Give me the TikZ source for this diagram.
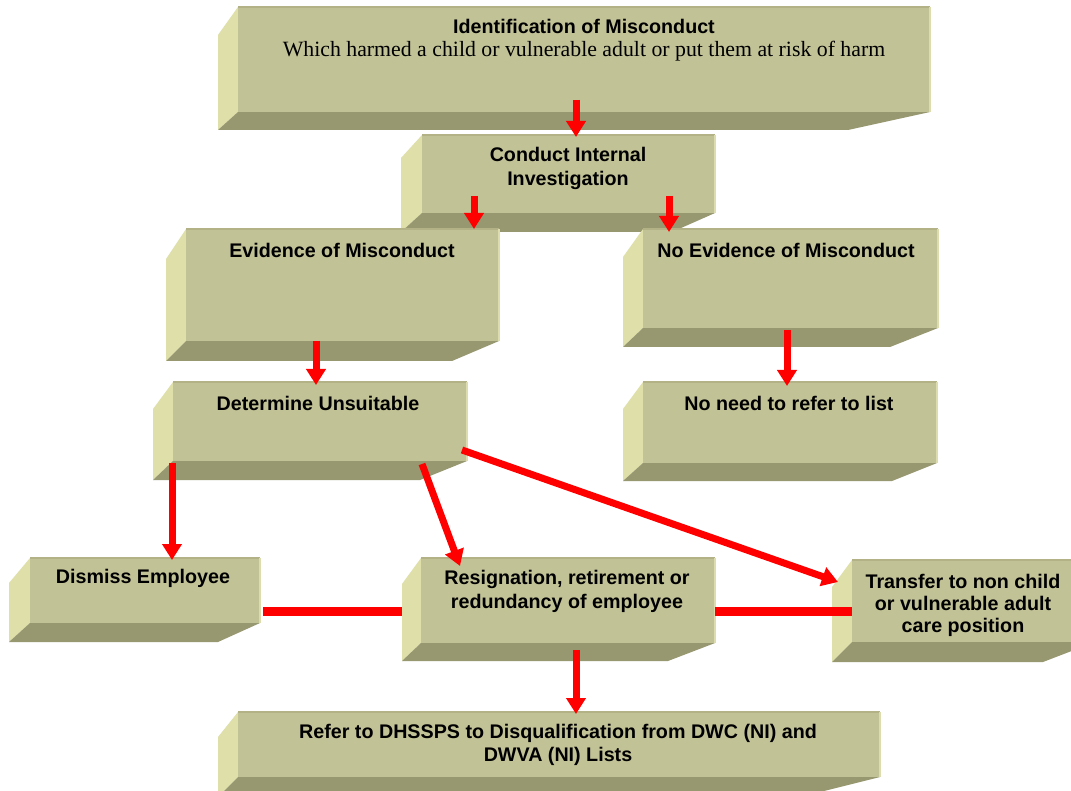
\documentclass[tikz,border=0pt]{standalone}
\usepackage{fontspec}
\setmainfont{Liberation Sans}
\newfontfamily\tnrfont{Liberation Serif}
\usetikzlibrary{arrows.meta,fit}
\definecolor{frontc}{HTML}{C2C297}
\definecolor{sidec}{HTML}{DFDFA9}
\definecolor{botc}{HTML}{979770}
\definecolor{topedgec}{HTML}{B2B286}
\definecolor{rightedgec}{HTML}{DCDCAE}
\definecolor{arrred}{HTML}{FF0000}
\tikzset{
  front/.style={fill=frontc, inner sep=0pt, outer sep=0pt, draw=none},
  sidef/.style={fill=sidec},
  botf/.style={fill=botc},
  topedge/.style={draw=topedgec, line width=1.5pt},
  rightedge/.style={draw=rightedgec, line width=1.5pt},
  lbl/.style={font=\fontsize{19.7}{23.5}\selectfont\bfseries, align=center, inner sep=0pt, text=black},
  serifl/.style={font=\tnrfont\fontsize{21.8}{26}\selectfont, inner sep=0pt, text=black},
  arr/.style={draw=arrred, line width=7pt, -{Triangle[width=19pt,length=16pt]}},
  link/.style={draw=arrred, line width=9pt},
}
% name, xL, yT, xR, yB, a (side depth x), b (side top drop), c (bottom depth), e (bottom right inset)
\newcommand\tdbox[9]{%
  \fill[sidef] (#2,#3) -- (#2-#6,#3+#7) -- (#2-#6,#5+#8) -- (#2,#5) -- cycle;
  \fill[botf] (#2,#5) -- (#4,#5) -- (#4-#9,#5+#8) -- (#2-#6,#5+#8) -- cycle;
  \node[front, fit={(#2,#3) (#4,#5)}] (#1) {};
  \draw[topedge] (#2,#3) -- (#4,#3);
  \draw[rightedge] (#4,#3) -- (#4,#5);
}
\begin{document}
\begin{tikzpicture}[x=1pt,y=-1pt]
\clip (0,0) rectangle (1071,791);
\fill[white] (0,0) rectangle (1071,791);

\tdbox{top}{238}{7}{930}{112}{20}{28}{18}{82}
\tdbox{ci}{422}{135}{715}{213}{21}{23}{19}{43}
\tdbox{ev}{186}{229}{499}{341}{20}{30}{20}{47}
\tdbox{nev}{643}{229}{938}{328}{20}{28}{19}{48}
\tdbox{det}{173}{382}{467}{461}{20}{27}{19}{47}
\tdbox{nn}{643}{382}{937}{463}{20}{27}{18}{45}
\tdbox{dis}{30}{558}{260}{623}{21}{25}{19}{42}
\tdbox{res}{421}{558}{715}{643}{19}{26}{18}{47}
\tdbox{tr}{852}{560}{1095}{642}{20}{27}{20}{52}
\tdbox{ref}{238}{712}{880}{777}{20}{25}{20}{80}

\node[lbl] (topT) at (584,26) {Identification of Misconduct};
\node[serifl] (topS) at (584,51) {Which harmed a child or vulnerable adult or put them at risk of harm};
\node[lbl] (ciT) at (568,168.5) {Conduct Internal\\Investigation};
\node[lbl] (evT) at (342,250) {Evidence of Misconduct};
\node[lbl] (nevT) at (786,250) {No Evidence of Misconduct};
\node[lbl] (detT) at (318,403) {Determine Unsuitable};
\node[lbl] (nnT) at (789,403) {No need to refer to list};
\node[lbl] (disT) at (143,578) {Dismiss Employee};
\node[lbl] (resT) at (567,591.5) {Resignation, retirement or\\redundancy of employee};
\node[lbl, font=\fontsize{19.7}{22}\selectfont\bfseries] (trT) at (963,605) {Transfer to non child\\or vulnerable adult\\care position};
\node[lbl] (refT) at (558,745) {Refer to DHSSPS to Disqualification from DWC (NI) and\\DWVA (NI) Lists};

% arrows
\draw[arr] ([xshift=-8pt,yshift=12pt]top.south) -- ([xshift=7.5pt,yshift=-2pt]ci.north);
\draw[arr] ([xshift=-94.5pt,yshift=17pt]ci.south) -- ([xshift=131.5pt]ev.north);
\draw[arr] ([xshift=100.5pt,yshift=17pt]ci.south) -- ([xshift=-121.5pt,yshift=-3pt]nev.north);
\draw[arr] ([xshift=-26.5pt]ev.south) -- ([xshift=-4pt,yshift=-3pt]det.north);
\draw[arr] ([xshift=-3.5pt,yshift=-2pt]nev.south) -- ([xshift=-3pt,yshift=-4pt]nn.north);
\draw[arr] ([xshift=-148pt,yshift=-2pt]det.south) -- ([xshift=27pt,yshift=-2pt]dis.north);
\draw[arr] ([xshift=102pt,yshift=-3pt]det.south) -- ([xshift=-108pt,yshift=-8pt]res.north);
\draw[arr] ([xshift=-5pt,yshift=11pt]det.south east) -- ([xshift=-14pt,yshift=19pt]tr.west);
\draw[arr] ([xshift=8pt,yshift=-7pt]res.south) -- ([xshift=17pt,yshift=-2pt]ref.north);

% links
\draw[link] ([xshift=3pt,yshift=-20.5pt]dis.east) -- ([xshift=-19pt,yshift=-10.5pt]res.west);
\draw[link] ([yshift=-10.5pt]res.east) -- ([yshift=-10pt]tr.west);
\end{tikzpicture}
\end{document}
